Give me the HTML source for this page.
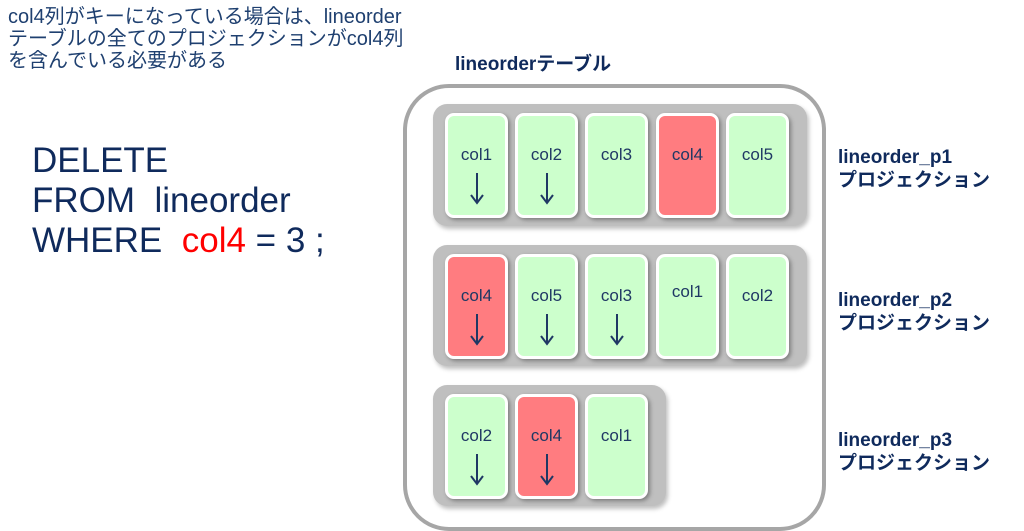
<!DOCTYPE html>
<html><head><meta charset="utf-8"><style>
body{margin:0;width:1024px;height:530px;background:#fff;position:relative;overflow:hidden;font-family:"Liberation Sans","Noto Sans CJK JP",sans-serif;color:#17375e}
.a{position:absolute}
.top{left:8px;top:6px;font-size:20px;line-height:22px;color:#1f4070;white-space:nowrap}
.sql{left:32px;top:141px;font-size:35px;line-height:40px;color:#0f2a5c;white-space:nowrap}
.outer{left:403px;top:84px;width:415px;height:439px;border:4px solid #a6a6a6;border-radius:46px}
.band{background:#bfbfbf;border-radius:14px;box-shadow:2px 3px 4px rgba(0,0,0,.25)}
.card{width:57px;height:99px;border:3px solid #fff;border-radius:9px;background:#ccffcc;box-shadow:2px 2px 4px rgba(0,0,0,.35);font-size:17px;color:#1f3864;text-align:center;box-sizing:content-box}
.card span{display:block;margin-top:29px}
.red{background:#ff7c80}
.arr{display:block;margin:8px auto 0;width:14px;height:32px}
.lbl{font-weight:bold;font-size:19px;line-height:23px;color:#0f2a5c;white-space:nowrap}
</style></head><body>
<div class="a top">col4列がキーになっている場合は、lineorder<br>テーブルの全てのプロジェクションがcol4列<br>を含んでいる必要がある</div>
<div class="a sql">DELETE<br>FROM&nbsp; lineorder<br>WHERE&nbsp; <span style="color:#ff0000">col4</span> = 3 ;</div>
<div class="a lbl" style="left:455px;top:53px;font-size:19px">lineorderテーブル</div>
<div class="a outer"></div>
<div class="a band" style="left:433px;top:104px;width:374px;height:122px"></div>
<div class="a band" style="left:433px;top:245px;width:374px;height:121px"></div>
<div class="a band" style="left:433px;top:385px;width:233px;height:121px"></div>

<div class="a card" style="left:445px;top:113px"><span>col1</span><svg class="arr"><path d="M7 0V30M1 22L7 30L13 22" stroke="#1f3864" stroke-width="2" fill="none"/></svg></div>
<div class="a card" style="left:515px;top:113px"><span>col2</span><svg class="arr"><path d="M7 0V30M1 22L7 30L13 22" stroke="#1f3864" stroke-width="2" fill="none"/></svg></div>
<div class="a card" style="left:585px;top:113px"><span>col3</span></div>
<div class="a card red" style="left:656px;top:113px"><span>col4</span></div>
<div class="a card" style="left:726px;top:113px"><span>col5</span></div>

<div class="a card red" style="left:445px;top:254px"><span>col4</span><svg class="arr"><path d="M7 0V30M1 22L7 30L13 22" stroke="#1f3864" stroke-width="2" fill="none"/></svg></div>
<div class="a card" style="left:515px;top:254px"><span>col5</span><svg class="arr"><path d="M7 0V30M1 22L7 30L13 22" stroke="#1f3864" stroke-width="2" fill="none"/></svg></div>
<div class="a card" style="left:585px;top:254px"><span>col3</span><svg class="arr"><path d="M7 0V30M1 22L7 30L13 22" stroke="#1f3864" stroke-width="2" fill="none"/></svg></div>
<div class="a card" style="left:656px;top:254px"><span style="margin-top:25px">col1</span></div>
<div class="a card" style="left:726px;top:254px"><span>col2</span></div>

<div class="a card" style="left:445px;top:394px"><span>col2</span><svg class="arr"><path d="M7 0V30M1 22L7 30L13 22" stroke="#1f3864" stroke-width="2" fill="none"/></svg></div>
<div class="a card red" style="left:515px;top:394px"><span>col4</span><svg class="arr"><path d="M7 0V30M1 22L7 30L13 22" stroke="#1f3864" stroke-width="2" fill="none"/></svg></div>
<div class="a card" style="left:585px;top:394px"><span>col1</span></div>

<div class="a lbl" style="left:838px;top:146px">lineorder_p1<br>プロジェクション</div>
<div class="a lbl" style="left:838px;top:289px">lineorder_p2<br>プロジェクション</div>
<div class="a lbl" style="left:838px;top:429px">lineorder_p3<br>プロジェクション</div>
</body></html>
